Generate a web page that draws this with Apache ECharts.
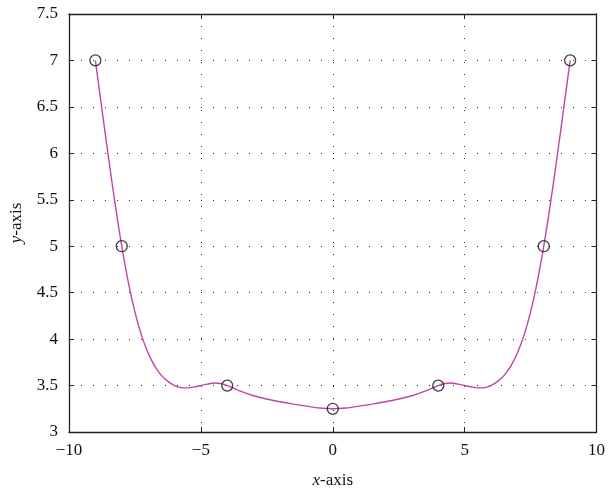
<!DOCTYPE html>
<html>
<head>
<meta charset="utf-8">
<script src="https://cdn.jsdelivr.net/npm/echarts@6/dist/echarts.min.js"></script>
<style>
  html, body { margin: 0; padding: 0; background: #fff; }
  #chart { width: 608px; height: 496px; }
</style>
</head>
<body>
<div id="chart"></div>
<script>
// measured points (circles)
var pointsX = [-9, -8, -4, 0, 4, 8, 9];
var pointsY = [7, 5, 3.5, 3.25, 3.5, 5, 7];

// interpolating curve
var curveX = [-9, -8.75, -8.5, -8.25, -8, -7.75, -7.5, -7.25, -7, -6.75, -6.5, -6.25, -6, -5.75, -5.5, -5.25, -5, -4.75, -4.5, -4.25, -4, -3.5, -3, -2.5, -2, -1.5, -1, -0.5,
  0, 0.5, 1, 1.5, 2, 2.5, 3, 3.5, 4, 4.25, 4.5, 4.75, 5, 5.25, 5.5, 5.75, 6, 6.25, 6.5, 6.75, 7, 7.25, 7.5, 7.75, 8, 8.25, 8.5, 8.75, 9];
var curveY = [7, 6.47, 5.95, 5.45, 5, 4.61, 4.29, 4.04, 3.85, 3.71, 3.61, 3.545, 3.5, 3.478, 3.475, 3.485, 3.5, 3.515, 3.528, 3.522, 3.5, 3.44, 3.39, 3.355, 3.325, 3.3, 3.278, 3.258,
  3.25, 3.258, 3.278, 3.3, 3.325, 3.355, 3.39, 3.44, 3.5, 3.522, 3.528, 3.515, 3.5, 3.485, 3.475, 3.478, 3.5, 3.545, 3.61, 3.71, 3.85, 4.04, 4.29, 4.61, 5, 5.45, 5.95, 6.47, 7];

var xTicks = [-10, -5, 0, 5, 10];
var yTicks = [3, 3.5, 4, 4.5, 5, 5.5, 6, 6.5, 7, 7.5];

var serif = 'Liberation Serif';
var frame = { show: true, onZero: false, lineStyle: { color: '#222', width: 1.3 } };
var dots = { show: true, lineStyle: { color: '#333', width: 1, type: [1, 11] } };
var ticks = { show: true, inside: true, length: 5, lineStyle: { color: '#222' } };

var chart = echarts.init(document.getElementById('chart'));
chart.setOption({
  animation: false,
  textStyle: { fontFamily: serif },
  grid: { left: 69, right: 10, top: 14, bottom: 64 },
  xAxis: [
    {
      type: 'value', min: xTicks[0], max: xTicks[xTicks.length - 1], interval: 5,
      axisLine: frame, axisTick: ticks, splitLine: dots,
      axisLabel: {
        color: '#111', fontFamily: serif, fontSize: 17, margin: 10,
        formatter: function (v) { return String(v).replace('-', '\u2212'); }
      },
      name: '{i|x}-axis', nameLocation: 'middle', nameGap: 40,
      nameTextStyle: {
        color: '#111', fontFamily: serif, fontSize: 17,
        rich: { i: { fontStyle: 'italic', fontFamily: serif, fontSize: 17, color: '#111' } }
      }
    },
    {
      type: 'value', position: 'top', min: xTicks[0], max: xTicks[xTicks.length - 1], interval: 5,
      axisLine: frame, axisTick: ticks,
      axisLabel: { show: false }, splitLine: { show: false }
    }
  ],
  yAxis: [
    {
      type: 'value', min: yTicks[0], max: yTicks[yTicks.length - 1], interval: 0.5,
      axisLine: frame, axisTick: ticks, splitLine: dots,
      axisLabel: { color: '#111', fontFamily: serif, fontSize: 17, margin: 11 },
      name: '{i|y}-axis', nameLocation: 'middle', nameGap: 44,
      nameTextStyle: {
        color: '#111', fontFamily: serif, fontSize: 17,
        rich: { i: { fontStyle: 'italic', fontFamily: serif, fontSize: 17, color: '#111' } }
      }
    },
    {
      type: 'value', position: 'right', min: yTicks[0], max: yTicks[yTicks.length - 1], interval: 0.5,
      axisLine: frame, axisTick: ticks,
      axisLabel: { show: false }, splitLine: { show: false }
    }
  ],
  series: [
    {
      type: 'line',
      data: curveX.map(function (x, i) { return [x, curveY[i]]; }),
      smooth: 0.3,
      showSymbol: false,
      lineStyle: { color: '#bf45a8', width: 1.4 }
    },
    {
      type: 'scatter',
      data: pointsX.map(function (x, i) { return [x, pointsY[i]]; }),
      symbol: 'circle',
      symbolSize: 11,
      itemStyle: { color: 'rgba(0,0,0,0)', borderColor: '#111', borderWidth: 1.3 },
      z: 3
    }
  ]
});
</script>
</body>
</html>
